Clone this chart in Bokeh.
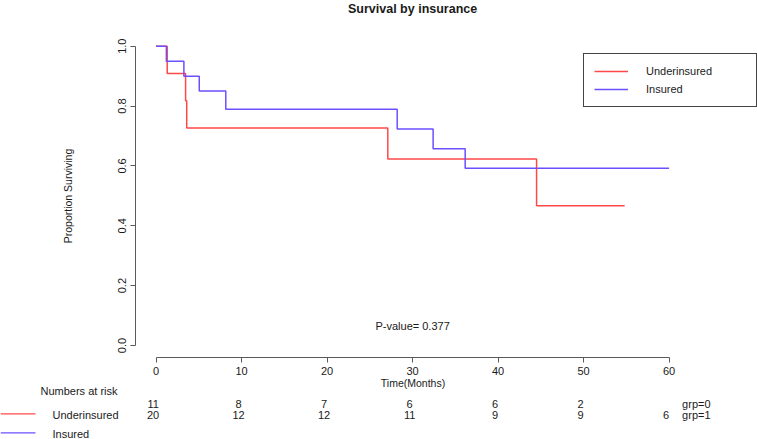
from bokeh.plotting import figure
from bokeh.models import Range1d, LinearAxis, FixedTicker, Legend, LegendItem
from bokeh.core.properties import value
from bokeh.embed import file_html
from bokeh.resources import INLINE

# ---------------- data ----------------
title_text = "Survival by insurance"
group_labels = ["Underinsured", "Insured"]
group_codes = ["grp=0", "grp=1"]

under_time = [0.0, 1.3, 3.45, 3.58, 27.1, 44.5, 54.8]
under_surv = [1.0, 0.909, 0.818, 0.727, 0.623, 0.467, 0.467]

ins_time = [0.0, 1.2, 3.25, 5.05, 8.15, 28.2, 32.4, 36.15, 60.0]
ins_surv = [1.0, 0.95, 0.90, 0.85, 0.789, 0.723, 0.657, 0.592, 0.592]

x_ticks = [0, 10, 20, 30, 40, 50, 60]
x_tick_labels = ["0", "10", "20", "30", "40", "50", "60"]
y_ticks = [0.0, 0.2, 0.4, 0.6, 0.8, 1.0]
y_tick_labels = ["0.0", "0.2", "0.4", "0.6", "0.8", "1.0"]

risk_times_0 = [0, 10, 20, 30, 40, 50]
risk_counts_0 = [11, 8, 7, 6, 6, 2]
risk_times_1 = [0, 10, 20, 30, 40, 50, 60]
risk_counts_1 = [20, 12, 12, 11, 9, 9, 6]

p_value_text = "P-value= 0.377"
x_label = "Time(Months)"
y_label = "Proportion Surviving"
risk_title = "Numbers at risk"

# ---------------- layout helpers (window pixel -> data) ----------------
W, H = 757, 439
X0, XS = 155.6, 8.55     # px of t=0, px per month
Y0, YS = 345.0, 299.3    # px of S=0, px per unit


def ix(px):
    return (px - X0) / XS


def iy(py):
    return (Y0 - py) / YS


FONT = value("Liberation Sans")
RED = "#ff4848"
BLUE = "#6a50ff"
AXC = "#5a5a5a"
TXT = "#1a1a1a"

p = figure(width=W, height=H, output_backend="svg", toolbar_location=None,
           title=None, x_axis_location=None, y_axis_location=None,
           x_range=Range1d(ix(0), ix(W)), y_range=Range1d(iy(H), iy(0)),
           min_border=0, tools="")
p.outline_line_color = None
p.xgrid.visible = False
p.ygrid.visible = False
p.background_fill_color = "white"
p.border_fill_color = "white"

# ---------------- axes (R-style, detached) ----------------
xaxis = LinearAxis(fixed_location=-0.04, bounds=(0, 60),
                   ticker=FixedTicker(ticks=x_ticks, minor_ticks=[]),
                   major_label_overrides=dict(zip(x_ticks, x_tick_labels)),
                   axis_label=x_label)
yaxis = LinearAxis(fixed_location=-2.4, bounds=(0, 1),
                   ticker=FixedTicker(ticks=y_ticks, minor_ticks=[]),
                   major_label_overrides=dict(zip(y_ticks, y_tick_labels)),
                   axis_label=y_label, major_label_orientation="vertical")
for ax in (xaxis, yaxis):
    ax.axis_line_color = AXC
    ax.major_tick_line_color = AXC
    ax.major_tick_out = 5
    ax.major_tick_in = 0
    ax.minor_tick_out = 0
    ax.minor_tick_in = 0
    ax.major_label_text_font = "Liberation Sans"
    ax.major_label_text_font_size = "11px"
    ax.major_label_text_color = TXT
    ax.axis_label_text_font = "Liberation Sans"
    ax.axis_label_text_font_style = "normal"
    ax.axis_label_text_color = TXT
xaxis.major_label_standoff = 5
xaxis.axis_label_text_font_size = "10.5px"
xaxis.axis_label_standoff = -2
yaxis.major_label_standoff = 5
yaxis.axis_label_text_font_size = "10.5px"
yaxis.axis_label_standoff = 41
p.add_layout(xaxis, "below")
p.add_layout(yaxis, "left")

# ---------------- survival curves ----------------
r_under = p.step(under_time, under_surv, mode="after", line_color=RED, line_width=1.5)
r_ins = p.step(ins_time, ins_surv, mode="after", line_color=BLUE, line_width=1.5)

legend = Legend(items=[LegendItem(label=group_labels[0], renderers=[r_under]),
                       LegendItem(label=group_labels[1], renderers=[r_ins])],
                location=(583, 332), orientation="vertical",
                padding=10, spacing=4, margin=0,
                glyph_width=34, glyph_height=14, label_height=14,
                label_standoff=18, label_width=100,
                label_text_font="Liberation Sans", label_text_font_size="11px",
                label_text_color=TXT,
                border_line_color="#444444", border_line_width=1, border_line_alpha=1,
                background_fill_color="white", background_fill_alpha=1)
p.add_layout(legend)

# ---------------- texts ----------------
p.text(x=[30], y=[iy(1)], text=[title_text], text_font=FONT, text_font_size=value("12.5px"),
       text_font_style="bold", text_align="center", text_baseline="top", text_color=TXT)
p.text(x=[30], y=[iy(325)], text=[p_value_text], text_font=FONT, text_font_size=value("11px"),
       text_align="center", text_baseline="middle", text_color=TXT)

# numbers at risk table
row_y = [iy(403), iy(414.7)]
p.text(x=[ix(40)], y=[iy(390)], text=[risk_title], text_font=FONT, text_font_size=value("11px"),
       text_align="left", text_baseline="middle", text_color=TXT)
p.text(x=risk_times_0, y=[row_y[0]] * len(risk_times_0), text=[str(c) for c in risk_counts_0],
       text_font=FONT, text_font_size=value("11px"), text_align="center",
       text_baseline="middle", text_color=TXT, x_offset=-3)
p.text(x=risk_times_1, y=[row_y[1]] * len(risk_times_1), text=[str(c) for c in risk_counts_1],
       text_font=FONT, text_font_size=value("11px"), text_align="center",
       text_baseline="middle", text_color=TXT, x_offset=-3)
p.text(x=[60, 60], y=row_y, text=group_codes, text_font=FONT, text_font_size=value("11px"),
       text_align="left", text_baseline="middle", text_color=TXT, x_offset=13)

# lower-left group key
key_y = [iy(413.3), iy(432.3)]
p.segment(x0=[ix(0)] * 2, y0=key_y, x1=[ix(35)] * 2, y1=key_y,
          line_color=[RED, BLUE], line_width=1.2)
p.text(x=[ix(52)] * 2, y=[iy(414.7), iy(433)], text=group_labels, text_font=FONT,
       text_font_size=value("11px"), text_align="left", text_baseline="middle", text_color=TXT)

open("out.html", "w").write(file_html(p, INLINE))
